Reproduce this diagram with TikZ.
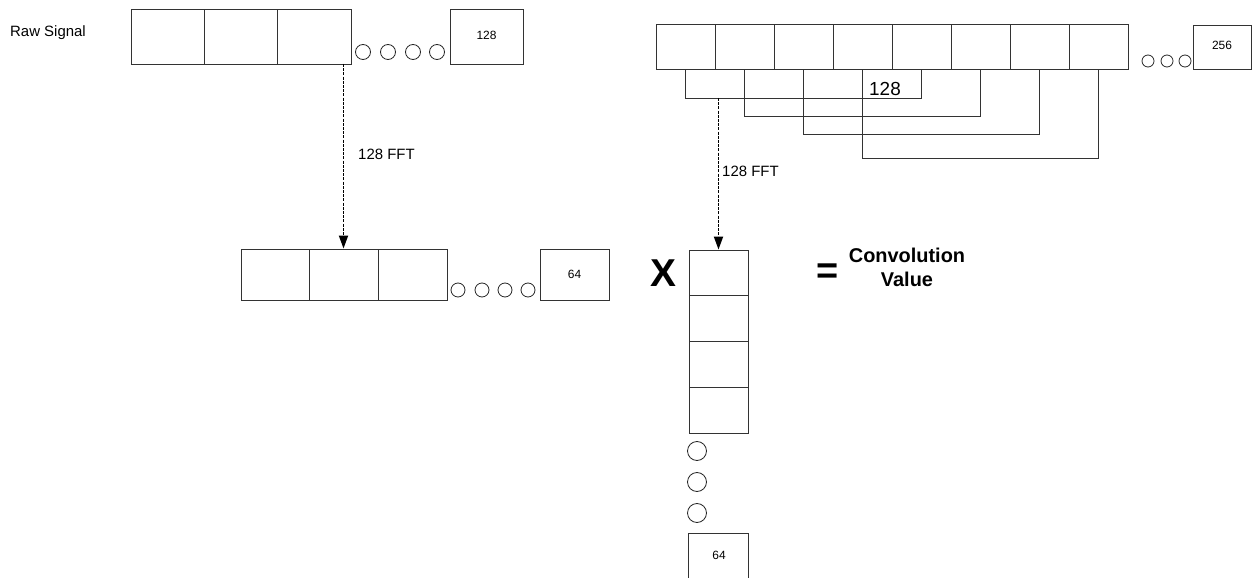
\documentclass[tikz,border=0pt]{standalone}
\usepackage{fontspec}
\setmainfont{Liberation Sans}
\usetikzlibrary{arrows.meta}
\begin{document}
\begin{tikzpicture}[x=1bp,y=-1bp,
  box/.style={draw=black!80, line width=0.9bp, inner sep=0, font=\fontsize{12}{14}\selectfont},
  dot/.style={circle, draw=black!85, line width=0.8bp, inner sep=0, minimum size=#1},
  dot/.default=15bp,
  fftarrow/.style={line width=1.8bp, dash pattern=on 3bp off 1.2bp, -{Triangle[length=13bp,width=9bp]}},
  bracket/.style={draw=black!80, line width=0.9bp},
  lbl/.style={font=\fontsize{15}{18}\selectfont, inner sep=0}
]
\useasboundingbox (0,0) rectangle (1252,578);
\clip (0,0) rectangle (1252,578);

% Raw signal row
\node[lbl, anchor=west] (raw) at (10,33) {Raw Signal};
\node[box, minimum width=73bp, minimum height=55bp] (a1) at (167.5,36.5) {};
\node[box, minimum width=73bp, minimum height=55bp] (a2) at (240.5,36.5) {};
\node[box, minimum width=74bp, minimum height=55bp] (a3) at (314,36.5) {};
\node[dot] (ad1) at (363,52) {};
\node[dot] (ad2) at (388,52) {};
\node[dot] (ad3) at (413,52) {};
\node[dot] (ad4) at (437,52) {};
\node[box, minimum width=73bp, minimum height=55bp] (a128) at (486.5,36.5) {\raisebox{2bp}{128}};

% FFT arrow 1
\coordinate (s1) at (343.5,64);
\node[lbl, anchor=west] (fft1) at (358,154) {128 FFT};

% Middle row
\node[box, minimum width=68bp, minimum height=51bp] (m1) at (275,274.5) {};
\node[box, minimum width=69bp, minimum height=51bp] (m2) at (343.5,274.5) {};
\node[box, minimum width=69bp, minimum height=51bp] (m3) at (412.5,274.5) {};
\node[dot=14bp] (md1) at (458,290) {};
\node[dot=14bp] (md2) at (482,290) {};
\node[dot=14bp] (md3) at (505,290) {};
\node[dot=14bp] (md4) at (528,290) {};
\node[box, minimum width=69bp, minimum height=51bp] (m64) at (574.5,274.5) {64};
\draw[fftarrow] (s1) -- (m2.north);

% Multiply sign
\node[font=\fontsize{39}{40}\selectfont\bfseries, inner sep=0] (times) at (663,273) {X};

% Top right row
\foreach \i in {1,...,8}{
  \node[box, minimum width=59bp, minimum height=45bp] (b\i) at ({656+59*(\i-1)+29.5},46.5) {};
}
\node[dot=12bp] (bd1) at (1148,61) {};
\node[dot=12bp] (bd2) at (1167,61) {};
\node[dot=12bp] (bd3) at (1185,61) {};
\node[box, minimum width=58bp, minimum height=44bp] (b256) at (1222,47) {\raisebox{3bp}{256}};

% Brackets (sliding windows)
\draw[bracket] (b1.south) -- ++(0,29) -| (b5.south);
\draw[bracket] (b2.south) -- ++(0,47) -| (b6.south);
\draw[bracket] (b3.south) -- ++(0,65) -| (b7.south);
\draw[bracket] (b4.south) -- ++(0,89) -| (b8.south);
\node[font=\fontsize{19}{22}\selectfont, inner sep=0] (w128) at (885,89) {128};
\coordinate (s2) at (718.5,98);

% Column
\node[box, minimum width=59bp, minimum height=45.75bp] (c1) at (718.5,272.9) {};
\node[box, minimum width=59bp, minimum height=45.75bp] (c2) at (718.5,318.6) {};
\node[box, minimum width=59bp, minimum height=45.75bp] (c3) at (718.5,364.4) {};
\node[box, minimum width=59bp, minimum height=45.75bp] (c4) at (718.5,410.1) {};
\draw[fftarrow] (s2) -- (c1.north);
\node[lbl, anchor=west] (fft2) at (722,171) {128 FFT};
\node[dot=19bp] (cd1) at (697,451) {};
\node[dot=19bp] (cd2) at (697,482) {};
\node[dot=19bp] (cd3) at (697,513) {};
\node[box, minimum width=60bp, minimum height=70bp, anchor=north] (c64) at (718,533) {};
\node[font=\fontsize{12}{14}\selectfont, inner sep=0] (c64t) at (719,555) {64};

% Equals and result
\node[font=\fontsize{38}{40}\selectfont\bfseries, inner sep=0] (eq) at (828,274) {=};
\node[font=\fontsize{20}{24}\selectfont\bfseries, align=center, inner sep=0] (conv) at (907,267) {Convolution\\Value};
\end{tikzpicture}
\end{document}
